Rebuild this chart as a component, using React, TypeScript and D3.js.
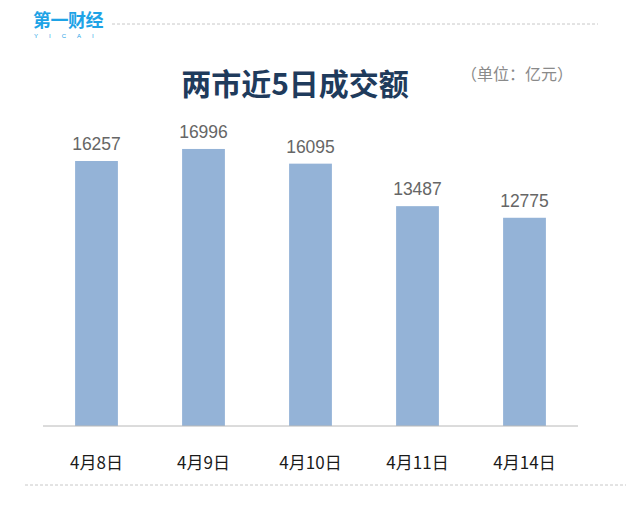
import React from "react";
import * as d3 from "d3";

const categories = ["4月8日", "4月9日", "4月10日", "4月11日", "4月14日"];
const values = [16257, 16996, 16095, 13487, 12775];
const title = "两市近5日成交额";
const unit = "（单位：亿元）";

export default function App() {
  const W = 626, H = 505;
  const x = d3.scaleBand<string>().domain(categories).range([43, 578]).paddingInner(0.6).paddingOuter(0.3);
  const y = d3.scaleLinear().domain([0, 20000]).range([426, 100]);
  const font = "'Noto Sans CJK SC', sans-serif";
  return (
    <svg width={W} height={H} style={{ position: "absolute", left: 0, top: 0, background: "#fff" }} fontFamily={font}>
      <rect width={W} height={H} fill="#fff" />
      {/* logo */}
      <text x={33} y={27} fontSize={18} fontWeight="bold" fill="#1ea3e6" letterSpacing={-0.5}>第一财经</text>
      <text x={34} y={38} fontSize={6} fill="#1ea3e6" fontFamily="Arial, sans-serif" letterSpacing={11}>YICAI</text>
      <line x1={112} x2={598} y1={24} y2={24} stroke="#c8c8c8" strokeDasharray="3,2" strokeWidth={1} />
      {/* title */}
      <text x={295} y={95} textAnchor="middle" fontSize={30} fontWeight="bold" fill="#1f3b5c">{title}</text>
      <text x={517} y={80} textAnchor="middle" fontSize={16} fill="#8a8a8a">{unit}</text>
      {/* bars */}
      {values.map((v, i) => (
        <g key={i}>
          <rect x={x(categories[i])!} y={y(v)} width={x.bandwidth()} height={y(0) - y(v)} fill="#94b3d7" />
          <text x={x(categories[i])! + x.bandwidth() / 2} y={y(v) - 11} textAnchor="middle" fontSize={17.5} fill="#666666" fontFamily="Arial, 'Liberation Sans', sans-serif">{v}</text>
          <text x={x(categories[i])! + x.bandwidth() / 2} y={469} textAnchor="middle" fontSize={17} fill="#1a1a1a">{categories[i]}</text>
        </g>
      ))}
      <line x1={43} x2={578} y1={426} y2={426} stroke="#b8b8b8" strokeWidth={1} />
      <line x1={25} x2={626} y1={485} y2={485} stroke="#c8c8c8" strokeDasharray="3,2" strokeWidth={1} />
    </svg>
  );
}
